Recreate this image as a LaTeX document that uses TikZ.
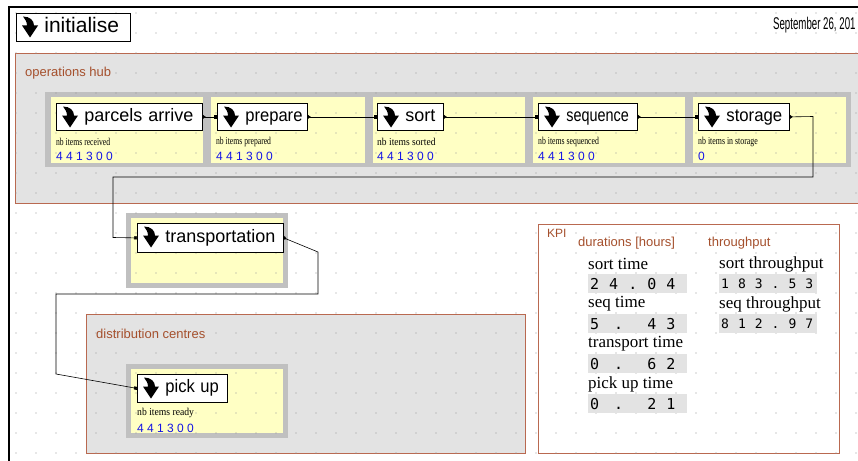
\documentclass[tikz,border=0pt]{standalone}
\usepackage{fontspec}
\setmainfont{Liberation Serif}
\setsansfont{Liberation Sans}
\setmonofont{DejaVu Sans Mono}
\usetikzlibrary{arrows.meta,calc}

\definecolor{hubgrey}{RGB}{227,227,227}
\definecolor{framegrey}{RGB}{192,192,192}
\definecolor{paneyellow}{RGB}{255,255,196}
\definecolor{groupline}{RGB}{185,105,80}
\definecolor{grouptext}{RGB}{165,80,45}
\definecolor{valblue}{RGB}{20,20,230}
\definecolor{dotgrey}{RGB}{150,150,150}

\newcommand\gap{\hspace{10pt}}
\newcommand\tgap{\hspace{9pt}}

\tikzset{
  btn/.style={draw=black, fill=white, line width=0.8pt, anchor=north west,
    minimum height=28pt, inner xsep=3pt, inner ysep=0pt, text width=#1,
    text height=13pt, text depth=4pt,
    align=left, font=\sffamily\fontsize{18}{20}\selectfont},
  link/.style={line width=0.6pt,
    {Triangle[reversed,length=3pt,width=4pt]}-{Square[length=3pt,width=3pt]}},
  group/.style={fill=hubgrey, draw=groupline, line width=0.8pt},
  grouplabel/.style={anchor=west, inner sep=0pt, text=grouptext,
    font=\sffamily\fontsize{13}{15}\selectfont},
  small/.style={anchor=west, inner sep=0pt, font=\fontsize{10.5}{12}\selectfont},
  count/.style={anchor=west, inner sep=0pt, text=valblue,
    font=\sffamily\fontsize{12}{14}\selectfont},
  kpilabel/.style={anchor=west, inner sep=0pt, font=\fontsize{17}{19}\selectfont},
  kpival/.style={fill=hubgrey, anchor=north west, minimum height=19pt,
    inner xsep=2pt, inner ysep=0pt, text width=#1, align=left},
  dnarrow/.pic={
    \fill[black] (1,0) .. controls (8,0) and (12,4) .. (12,9) -- (16,9)
      -- (8,21) -- (0,9) -- (5,9) .. controls (5,5) and (3,3) .. (1,0) -- cycle;
  }
}

\begin{document}
\begin{tikzpicture}[x=1pt, y=-1pt]
  \useasboundingbox (0,0) rectangle (858,460);
  \clip (0,0) rectangle (858,460);

  % groups and panels
  \filldraw[group] (15,53) rectangle (880,203);
  \fill[framegrey] (45,92) rectangle (851,167);
  \foreach \a/\b in {51/203, 211/365, 373/525, 533/685, 693/846}
    \fill[paneyellow] (\a,97) rectangle (\b,163);
  \fill[framegrey] (126,213) rectangle (288,288);
  \fill[paneyellow] (131,218) rectangle (283,283);
  \filldraw[group] (86,314) rectangle (525,453);
  \fill[framegrey] (126,364) rectangle (288,438);
  \fill[paneyellow] (131,369) rectangle (283,433);
  \filldraw[fill=white, draw=groupline, line width=0.8pt] (538,224) rectangle (839,453);

  % dotted grid
  \foreach \i in {0,...,42}
    \foreach \j in {0,...,22}
      \fill[dotgrey] (16+20*\i, 13+20*\j) circle (0.55);

  % group labels
  \node[grouplabel] (hublbl) at (25,73) {operations hub};
  \node[grouplabel] (distlbl) at (96,334) {distribution centres};
  \node[grouplabel, font=\sffamily\fontsize{12}{14}\selectfont] (kpilbl) at (547,233) {KPI};
  \node[grouplabel] (durlbl) at (578,243) {durations [hours]};
  \node[grouplabel] (thrlbl) at (708,243) {throughput};

  % date
  \node[anchor=west, inner sep=0pt, xscale=0.57,
    font=\sffamily\fontsize{17}{19}\selectfont] (date) at (773,25) {September 26, 201};

  % counters
  \node[small, xscale=0.73] (rcvlbl) at (56,142) {nb items received};
  \node[count] (rcv) at (56,156) {4 4 1 3 0 0};
  \node[small, xscale=0.73] (prplbl) at (216,142) {nb items prepared};
  \node[count] (prp) at (216,156) {4 4 1 3 0 0};
  \node[small, xscale=0.91] (srtlbl) at (377,142) {nb items sorted};
  \node[count] (srt) at (377,156) {4 4 1 3 0 0};
  \node[small, xscale=0.74] (seqlbl) at (538,142) {nb items sequenced};
  \node[count] (seq) at (538,156) {4 4 1 3 0 0};
  \node[small, xscale=0.75] (stolbl) at (698,142) {nb items in storage};
  \node[count] (sto) at (698,156) {0};
  \node[small, xscale=0.92] (rdylbl) at (137,413) {nb items ready};
  \node[count] (rdy) at (137,428) {4 4 1 3 0 0};

  % KPI values
  \node[kpilabel] (sorttime) at (588,264) {sort time};
  \node[kpival=95pt, font=\ttfamily\fontsize{15}{17}\selectfont] (sortval) at (588,274) {2\gap 4\gap .\gap 0\gap 4};
  \node[kpilabel] (seqtime) at (588,304) {seq time};
  \node[kpival=95pt, font=\ttfamily\fontsize{15}{17}\selectfont] (seqval) at (588,314) {5\hspace{15pt}.\hspace{24pt}4\gap 3};
  \node[kpilabel] (trtime) at (588,344) {transport time};
  \node[kpival=95pt, font=\ttfamily\fontsize{15}{17}\selectfont] (trval) at (588,354) {0\hspace{15pt}.\hspace{24pt}6\gap 2};
  \node[kpilabel] (putime) at (588,384) {pick up time};
  \node[kpival=95pt, font=\ttfamily\fontsize{15}{17}\selectfont] (puval) at (588,394) {0\hspace{15pt}.\hspace{24pt}2\gap 1};
  \node[kpilabel] (sortthr) at (719,264) {sort throughput};
  \node[kpival=94pt, font=\ttfamily\fontsize{13}{15}\selectfont] (sortthrval) at (719,274) {1\tgap 8\tgap 3\tgap .\tgap 5\tgap 3};
  \node[kpilabel] (seqthr) at (719,304) {seq throughput};
  \node[kpival=94pt, font=\ttfamily\fontsize{13}{15}\selectfont] (seqthrval) at (719,314) {8\tgap 1\tgap 2\tgap .\tgap 9\tgap 7};

  % buttons
  \node[btn=108pt, font=\sffamily\fontsize{21}{23}\selectfont, text height=15pt] (init) at (16,13) {\hspace*{25pt}\mbox{initialise}};
  \node[btn=140pt, minimum height=27pt] (arrive) at (56,103) {\hspace*{25pt}\mbox{parcels arrive}};
  \node[btn=84pt, minimum height=27pt] (prepare) at (217,103) {\hspace*{25pt}\scalebox{0.92}[1]{prepare}};
  \node[btn=60pt, minimum height=27pt] (sort) at (377,103) {\hspace*{25pt}\mbox{sort}};
  \node[btn=93pt, minimum height=27pt] (sequence) at (538,103) {\hspace*{25pt}\scalebox{0.8}[1]{sequence}};
  \node[btn=85pt, minimum height=27pt] (storage) at (698,103) {\hspace*{25pt}\scalebox{0.93}[1]{storage}};
  \node[btn=140pt, minimum height=29pt] (transport) at (137,223) {\hspace*{25pt}\mbox{transportation}};
  \node[btn=84pt] (pickup) at (137,374) {\hspace*{25pt}\scalebox{0.92}[1]{pick up}};
  \foreach \b in {init, arrive, prepare, sort, sequence, storage, transport, pickup}
    \pic at ($(\b.north west)+(6,3.5)$) {dnarrow};

  % connectors
  \draw[link] (arrive.east) -- (prepare.west);
  \draw[link] (prepare.east) -- (sort.west);
  \draw[link] (sort.east) -- (sequence.west);
  \draw[link] (sequence.east) -- (storage.west);
  \draw[link] (storage.east) -- (813,116.5) -- (813,177) -- (113,177) -- (113,237.5) -- (transport.west);
  \draw[link] (transport.east) -- (318,252) -- (318,294) -- (56,294) -- (56,374) -- (pickup.west);

  % frame
  \draw[line width=1.6pt] (9,470) -- (9,7) -- (870,7);
\end{tikzpicture}
\end{document}
